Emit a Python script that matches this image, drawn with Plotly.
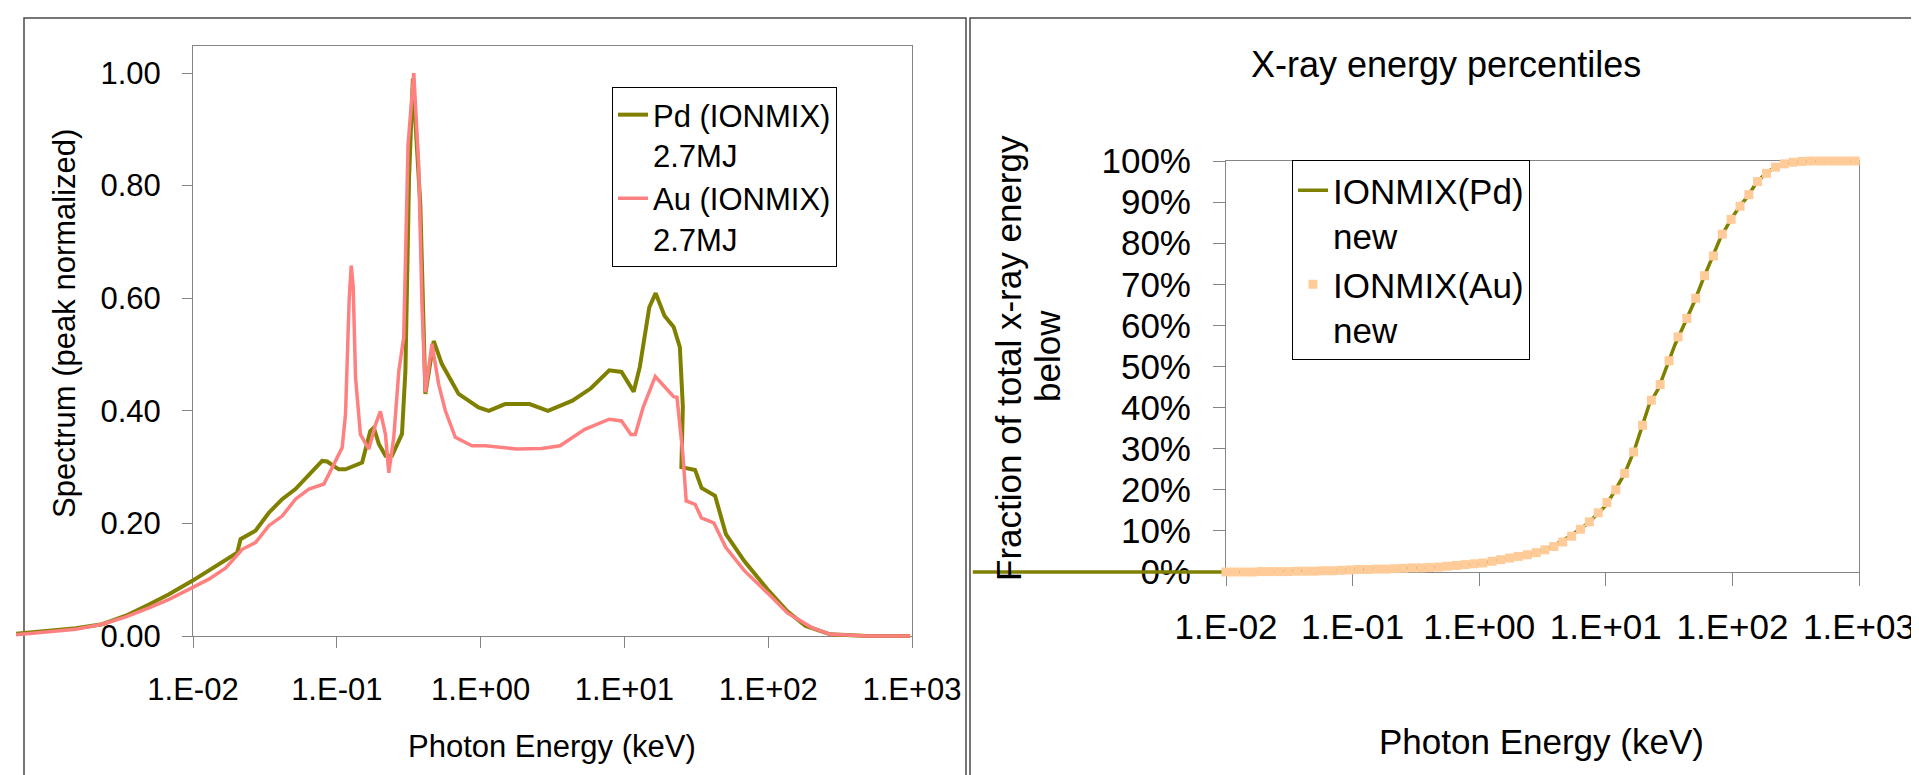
import plotly.graph_objects as go

W, H = 1919, 775

# ---- left chart: peak-normalised spectra, photon energy in keV ----
pd_energy = [0.000587, 0.000897, 0.00153, 0.00234, 0.00341, 0.00494, 0.00681, 0.00989, 0.0129, 0.0169,
             0.0203, 0.0214, 0.0272, 0.0337, 0.0417, 0.0516, 0.0640, 0.0791, 0.0857, 0.103,
             0.115, 0.150, 0.171, 0.181, 0.196, 0.218, 0.242, 0.284, 0.300, 0.318,
             0.338, 0.381, 0.413, 0.472, 0.538, 0.703, 0.968, 1.14, 1.48, 2.19,
             2.94, 4.35, 5.85, 7.85, 9.55, 11.1, 11.6, 12.8, 14.9, 16.5,
             19.0, 22.0, 24.3, 25.5, 24.9, 31.0, 34.4, 42.7, 50.8, 68.2,
             101, 136, 182, 270, 488, 970]
pd_spectrum = [0.004, 0.009, 0.0136, 0.021, 0.036, 0.056, 0.074, 0.098, 0.116, 0.136,
               0.148, 0.172, 0.187, 0.219, 0.243, 0.261, 0.287, 0.311, 0.310, 0.296,
               0.296, 0.308, 0.364, 0.370, 0.341, 0.320, 0.320, 0.359, 0.471, 0.813,
               0.99, 0.766, 0.430, 0.524, 0.483, 0.430, 0.406, 0.400, 0.412, 0.412,
               0.400, 0.418, 0.440, 0.472, 0.469, 0.443, 0.434, 0.478, 0.584, 0.609,
               0.569, 0.549, 0.513, 0.407, 0.300, 0.295, 0.263, 0.249, 0.181, 0.133,
               0.080, 0.044, 0.018, 0.003, 0.0, 0.0]

au_energy = [0.000587, 0.000897, 0.00153, 0.00234, 0.00341, 0.00494, 0.00681, 0.00989, 0.0129, 0.0169,
             0.0220, 0.0272, 0.0337, 0.0417, 0.0516, 0.0640, 0.0813, 0.0929, 0.109, 0.115,
             0.122, 0.126, 0.130, 0.135, 0.146, 0.167, 0.186, 0.201, 0.218, 0.230,
             0.249, 0.270, 0.292, 0.313, 0.343, 0.371, 0.391, 0.413, 0.459, 0.511,
             0.569, 0.667, 0.871, 1.08, 1.79, 2.66, 3.57, 5.30, 7.85, 9.55,
             11.1, 11.9, 13.5, 16.4, 19.0, 22.0, 23.2, 25.5, 26.9, 31.0,
             34.3, 41.8, 50.8, 68.2, 101, 136, 201, 270, 488, 970]
au_spectrum = [0.002, 0.006, 0.012, 0.021, 0.034, 0.050, 0.065, 0.086, 0.101, 0.121,
               0.154, 0.166, 0.196, 0.213, 0.243, 0.261, 0.270, 0.299, 0.335, 0.394,
               0.600, 0.658, 0.620, 0.459, 0.358, 0.332, 0.376, 0.399, 0.358, 0.290,
               0.353, 0.471, 0.530, 0.873, 1.00, 0.837, 0.588, 0.433, 0.519, 0.447,
               0.400, 0.353, 0.338, 0.338, 0.332, 0.333, 0.338, 0.367, 0.385, 0.382,
               0.358, 0.358, 0.406, 0.461, 0.442, 0.425, 0.424, 0.323, 0.240, 0.234,
               0.210, 0.201, 0.157, 0.116, 0.074, 0.041, 0.015, 0.003, 0.0, 0.0]

# ---- right chart: cumulative x-ray energy below E (percent) ----
pd_cum_energy = [0.0001, 0.001, 0.01, 0.1, 0.228, 0.497, 1.0, 1.69, 2.64, 3.70,
                 5.16, 7.21, 10.1, 11.9, 14.1, 16.7, 19.7, 22.0, 26.1, 30.1,
                 35.2, 42.1, 50.4, 58.1, 68.7, 79.4, 94.0, 112, 133, 153,
                 179, 210, 256, 358, 1000]
pd_cum_pct = [0, 0, 0, 0.6, 0.8, 1.2, 2.0, 3.3, 4.5, 6.1,
              8.6, 11.8, 16.3, 20.0, 24.0, 29.4, 36.3, 40.7, 44.7, 49.8,
              55.3, 60.6, 66.0, 70.9, 76.0, 80.9, 85.0, 88.6, 91.5, 94.5,
              96.7, 98.2, 99.3, 99.8, 100]

au_cum_energy = [0.0100, 0.0117, 0.0138, 0.0162, 0.0191, 0.0224, 0.0263, 0.0309, 0.0363, 0.0427,
                 0.0501, 0.0589, 0.0692, 0.0813, 0.0955, 0.112, 0.132, 0.155, 0.182, 0.214,
                 0.251, 0.295, 0.347, 0.407, 0.479, 0.562, 0.661, 0.776, 0.912, 1.07,
                 1.26, 1.48, 1.74, 2.04, 2.40, 2.82, 3.31, 3.89, 4.57, 5.37,
                 6.31, 7.41, 8.71, 10.2, 12.0, 14.1, 16.6, 19.5, 22.9, 26.9,
                 31.6, 37.2, 43.7, 51.3, 60.3, 70.8, 83.2, 97.7, 115, 135,
                 158, 186, 219, 257, 302, 355, 417, 490, 575, 676,
                 794, 933]
au_cum_pct = [0.0, 0.0, 0.0, 0.0, 0.1, 0.1, 0.1, 0.1, 0.2, 0.2,
              0.2, 0.3, 0.3, 0.4, 0.5, 0.6, 0.6, 0.7, 0.7, 0.8,
              0.9, 1.0, 1.0, 1.1, 1.2, 1.4, 1.6, 1.8, 2.0, 2.2,
              2.6, 3.0, 3.4, 3.8, 4.2, 4.7, 5.4, 6.2, 7.3, 8.7,
              10.4, 12.2, 14.4, 16.9, 20.0, 24.0, 29.2, 35.7, 41.8, 45.6,
              51.4, 57.2, 61.7, 66.6, 72.1, 76.9, 82.2, 85.8, 89.0, 91.8,
              95.0, 97.0, 98.5, 99.3, 99.7, 99.9, 100, 100, 100, 100,
              100, 100]

decade_vals = [0.01, 0.1, 1, 10, 100, 1000]
decade_text = ["1.E-02", "1.E-01", "1.E+00", "1.E+01", "1.E+02", "1.E+03"]
spec_ticks = [0, 0.2, 0.4, 0.6, 0.8, 1.0]
spec_text = ["0.00", "0.20", "0.40", "0.60", "0.80", "1.00"]
pct_ticks = [0, 10, 20, 30, 40, 50, 60, 70, 80, 90, 100]
pct_text = ["0%", "10%", "20%", "30%", "40%", "50%", "60%", "70%", "80%", "90%", "100%"]

OLIVE = "#808000"
PINK = "#FF8080"
PEACH = "#FFCC99"
FONT = "Liberation Sans, Arial, sans-serif"


def px(x):
    return x / W


def py(y):
    return 1 - y / H


# plot areas in pixels
L_X0, L_X1, L_TOP, L_BOT = 185, 904, 38, 628
L_YMAX = 1.048
R_X0, R_X1, R_TOP, R_BOT = 1218, 1851, 153, 564


def wide_range(x0, x1, a0, a1):
    # log range of an overlay axis spanning pixels a0..a1 with the same scale as x0..x1 -> [-2, 3]
    dec = (x1 - x0) / 5.0
    return [-2 - (x0 - a0) / dec, 3 + (a1 - x1) / dec]


def tall_range(top, bot, vmax, a_top, a_bot):
    per = (bot - top) / vmax
    return [-(a_bot - bot) / per, vmax + (top - a_top) / per]


fig = go.Figure()

# invisible anchors so the two visible subplots (axes, ticks, frames) get drawn
for xa, ya in [("x", "y"), ("x2", "y2")]:
    fig.add_trace(go.Scatter(x=[1], y=[0], mode="markers", marker=dict(opacity=0),
                             showlegend=False, hoverinfo="skip", xaxis=xa, yaxis=ya))

# data live on overlay axes that are wider than the visible plot areas,
# so the curves run past the y axis like in the original workbook chart
fig.add_trace(go.Scatter(x=pd_energy, y=pd_spectrum, mode="lines", name="Pd (IONMIX)<br>2.7MJ",
                         line=dict(color=OLIVE, width=4), xaxis="x3", yaxis="y3", legend="legend"))
fig.add_trace(go.Scatter(x=au_energy, y=au_spectrum, mode="lines", name="Au (IONMIX)<br>2.7MJ",
                         line=dict(color=PINK, width=3.5), xaxis="x3", yaxis="y3", legend="legend"))
fig.add_trace(go.Scatter(x=pd_cum_energy, y=pd_cum_pct, mode="lines", name="IONMIX(Pd)<br>new",
                         line=dict(color=OLIVE, width=3.5), xaxis="x4", yaxis="y4", legend="legend2"))
fig.add_trace(go.Scatter(x=au_cum_energy, y=au_cum_pct, mode="markers", name="IONMIX(Au)<br>new",
                         marker=dict(color=PEACH, size=9, symbol="square"),
                         xaxis="x4", yaxis="y4", legend="legend2"))

axis_common = dict(showgrid=False, zeroline=False, showline=True, mirror=True, fixedrange=True,
                   automargin=False, linecolor="#858585", linewidth=1, ticks="outside",
                   tickwidth=1, tickcolor="#858585")
hidden = dict(visible=False, fixedrange=True, automargin=False)

lay = dict(
    width=W, height=H, autosize=False,
    margin=dict(l=0, r=0, t=0, b=0, autoexpand=False),
    paper_bgcolor="white", plot_bgcolor="rgba(0,0,0,0)",
    font=dict(family=FONT, color="black"),
    dragmode=False, hovermode=False,
    xaxis=dict(axis_common, domain=[px(L_X0), px(L_X1)], anchor="y", type="log", range=[-2, 3],
               tickvals=decade_vals, ticktext=decade_text, ticklen=11,
               tickfont=dict(size=31), ticklabelstandoff=15),
    yaxis=dict(axis_common, domain=[py(L_BOT), py(L_TOP)], anchor="x", range=[0, L_YMAX],
               tickvals=spec_ticks, ticktext=spec_text, ticklen=10,
               tickfont=dict(size=31), ticklabelstandoff=15),
    xaxis2=dict(axis_common, domain=[px(R_X0), px(R_X1)], anchor="y2", type="log", range=[-2, 3],
                tickvals=decade_vals, ticktext=decade_text, ticklen=13,
                tickfont=dict(size=35), ticklabelstandoff=11),
    yaxis2=dict(axis_common, domain=[py(R_BOT), py(R_TOP)], anchor="x2", range=[0, 100],
                tickvals=pct_ticks, ticktext=pct_text, ticklen=12,
                tickfont=dict(size=35), ticklabelstandoff=15),
    xaxis3=dict(hidden, domain=[px(8), px(912)], anchor="y3", type="log",
                range=wide_range(L_X0, L_X1, 8, 912)),
    yaxis3=dict(hidden, domain=[py(642), py(30)], anchor="x3",
                range=tall_range(L_TOP, L_BOT, L_YMAX, 30, 642)),
    xaxis4=dict(hidden, domain=[px(963), px(1860)], anchor="y4", type="log",
                range=wide_range(R_X0, R_X1, 963, 1860)),
    yaxis4=dict(hidden, domain=[py(576), py(143)], anchor="x4",
                range=tall_range(R_TOP, R_BOT, 100, 143, 576)),
    legend=dict(x=px(604), y=py(79), xanchor="left", yanchor="top", bgcolor="white",
                bordercolor="black", borderwidth=1, font=dict(size=31), valign="top",
                tracegroupgap=0),
    legend2=dict(x=px(1284), y=py(152), xanchor="left", yanchor="top", bgcolor="white",
                 bordercolor="black", borderwidth=1, font=dict(size=35), valign="top",
                 tracegroupgap=0),
    showlegend=True,
)
fig.update_layout(**lay)

# chart-area frames of the two panels (open at the bottom, as in the screenshot)
for x0, x1 in [(16, 958), (962, 1911)]:
    fig.add_shape(type="path", xref="paper", yref="paper",
                  path=f"M {px(x0)} 0 L {px(x0)} {py(10)} L {px(x1)} {py(10)} L {px(x1)} 0",
                  line=dict(color="#4a4a4a", width=1.5), layer="below")

titles = [
    dict(text="Photon Energy (keV)", x=544, y=738, size=31, angle=0),
    dict(text="Spectrum (peak normalized)", x=56, y=316, size=31, angle=-90),
    dict(text="X-ray energy percentiles", x=1438, y=56, size=36, angle=0),
    dict(text="Photon Energy (keV)", x=1533, y=733, size=35, angle=0),
    dict(text="Fraction of total x-ray energy", x=1000, y=350, size=35, angle=-90),
    dict(text="below", x=1040, y=348, size=35, angle=-90),
]
for t in titles:
    fig.add_annotation(text=t["text"], x=px(t["x"]), y=py(t["y"]), xref="paper", yref="paper",
                       xanchor="center", yanchor="middle", showarrow=False,
                       textangle=t["angle"], font=dict(size=t["size"], family=FONT))

fig.write_html("out.html", config={"staticPlot": True, "displayModeBar": False})
